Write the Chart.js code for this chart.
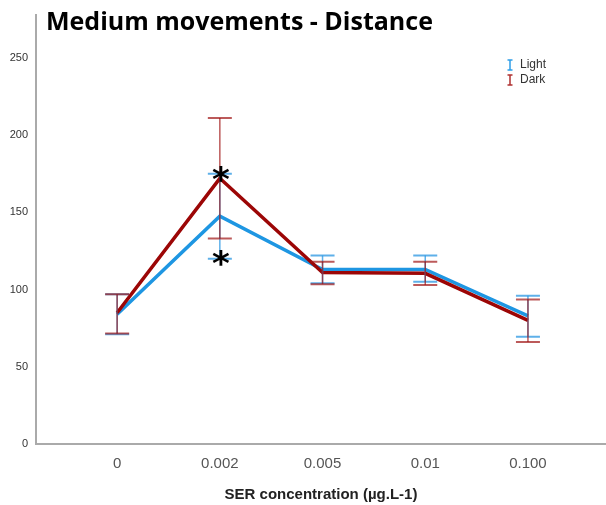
<!DOCTYPE html>
<html>
<head>
<meta charset="utf-8">
<script src="https://cdn.jsdelivr.net/npm/chart.js@4.4.1/dist/chart.umd.min.js"></script>
<style>
  html, body { margin: 0; padding: 0; background: #fff; }
  #wrap { width: 606px; height: 505px; }
</style>
</head>
<body>
<div id="wrap"><canvas id="chart"></canvas></div>
<script>
// concentrations on the x axis
var categories = ['0', '0.002', '0.005', '0.01', '0.100'];
var yTicks = [0, 50, 100, 150, 200, 250];

// Light series: mean and error bar ends
var lightMean = [84, 147.5, 113, 113, 83];
var lightLow  = [71, 120, 104, 105, 69.5];
var lightHigh = [97, 175, 122, 122, 96];

// Dark series: mean and error bar ends
var darkMean = [85, 172, 111, 110.5, 80];
var darkLow  = [71.5, 133, 103.5, 103, 66];
var darkHigh = [97, 211, 118, 118, 93.5];

// significance marks (category index, value)
var starIndex = [1, 1];
var starValue = [175, 120];

function toPoints(arr) {
  return arr.map(function (v, i) { return { x: i, y: v }; });
}

// error bars drawn over the lines
var errorBars = {
  id: 'errorBars',
  afterDatasetsDraw: function (chart) {
    var ctx = chart.ctx;
    var xs = chart.scales.x, ys = chart.scales.y;
    var sets = [
      { low: lightLow, high: lightHigh, color: 'rgba(40,150,225,0.75)' },
      { low: darkLow, high: darkHigh, color: 'rgba(160,20,20,0.7)' }
    ];
    ctx.save();
    sets.forEach(function (s) {
      ctx.strokeStyle = s.color;
      s.low.forEach(function (lo, i) {
        var x = xs.getPixelForValue(i);
        var y1 = ys.getPixelForValue(lo), y2 = ys.getPixelForValue(s.high[i]);
        ctx.lineWidth = 1.5;
        ctx.beginPath();
        ctx.moveTo(x, y1); ctx.lineTo(x, y2);
        ctx.stroke();
        ctx.lineWidth = 2;
        ctx.beginPath();
        ctx.moveTo(x - 12, y1); ctx.lineTo(x + 12, y1);
        ctx.moveTo(x - 12, y2); ctx.lineTo(x + 12, y2);
        ctx.stroke();
      });
    });
    // asterisks
    ctx.fillStyle = '#000';
    ctx.font = 'bold 34px "DejaVu Sans", sans-serif';
    ctx.textAlign = 'center';
    ctx.textBaseline = 'middle';
    starIndex.forEach(function (idx, k) {
      ctx.fillText('*', xs.getPixelForValue(idx) + 1, ys.getPixelForValue(starValue[k]) + 8);
    });
    ctx.restore();
  },
  afterDraw: function (chart) {
    var ctx = chart.ctx;
    ctx.save();
    // title
    ctx.fillStyle = '#000';
    ctx.font = 'bold 25px "Open Sans", "Noto Sans", sans-serif';
    ctx.textAlign = 'left';
    ctx.textBaseline = 'middle';
    ctx.fillText('Medium movements - Distance', 46, 23);
    // legend
    var items = [
      { label: 'Light', color: '#2f9ee8' },
      { label: 'Dark', color: '#b03030' }
    ];
    ctx.font = '12px "Liberation Sans", Arial, sans-serif';
    items.forEach(function (it, k) {
      var y = 65 + k * 15;
      ctx.strokeStyle = it.color;
      ctx.lineWidth = 1.5;
      ctx.beginPath();
      ctx.moveTo(510, y - 5); ctx.lineTo(510, y + 5);
      ctx.moveTo(507.5, y - 5); ctx.lineTo(512.5, y - 5);
      ctx.moveTo(507.5, y + 5); ctx.lineTo(512.5, y + 5);
      ctx.stroke();
      ctx.fillStyle = '#333';
      ctx.fillText(it.label, 520, y);
    });
    ctx.restore();
  }
};

new Chart(document.getElementById('chart'), {
  type: 'line',
  data: {
    datasets: [
      {
        label: 'Light',
        data: toPoints(lightMean),
        borderColor: '#1e96e2',
        borderWidth: 3.5,
        pointRadius: 0,
        fill: false,
        order: 1
      },
      {
        label: 'Dark',
        data: toPoints(darkMean),
        borderColor: '#9c0606',
        borderWidth: 3.5,
        pointRadius: 0,
        fill: false,
        order: 0
      }
    ]
  },
  options: {
    responsive: true,
    maintainAspectRatio: false,
    animation: false,
    layout: { padding: { top: 12, right: 0, bottom: 1, left: 0 } },
    plugins: {
      legend: { display: false },
      tooltip: { enabled: false }
    },
    scales: {
      x: {
        type: 'linear',
        min: -0.79,
        max: 4.76,
        grid: { display: false, drawTicks: false },
        border: { color: '#aaa', width: 2 },
        afterBuildTicks: function (scale) {
          scale.ticks = categories.map(function (c, i) { return { value: i }; });
        },
        ticks: {
          padding: 11,
          color: '#555',
          font: { size: 15, family: '"Liberation Sans", Arial, sans-serif' },
          callback: function (v) { return categories[v]; }
        },
        title: {
          display: true,
          text: 'SER concentration (µg.L-1)',
          color: '#222',
          padding: { top: 2, bottom: 0 },
          font: { size: 15, weight: 'bold', family: '"Liberation Sans", Arial, sans-serif' }
        }
      },
      y: {
        min: 0,
        max: 278,
        grid: { display: false, drawTicks: false },
        border: { color: '#aaa', width: 2 },
        afterBuildTicks: function (scale) {
          scale.ticks = yTicks.map(function (v) { return { value: v }; });
        },
        afterFit: function (scale) { scale.width = 36; },
        ticks: {
          padding: 8,
          color: '#333',
          font: { size: 11, family: '"Liberation Sans", Arial, sans-serif' }
        }
      }
    }
  },
  plugins: [errorBars]
});
</script>
</body>
</html>
